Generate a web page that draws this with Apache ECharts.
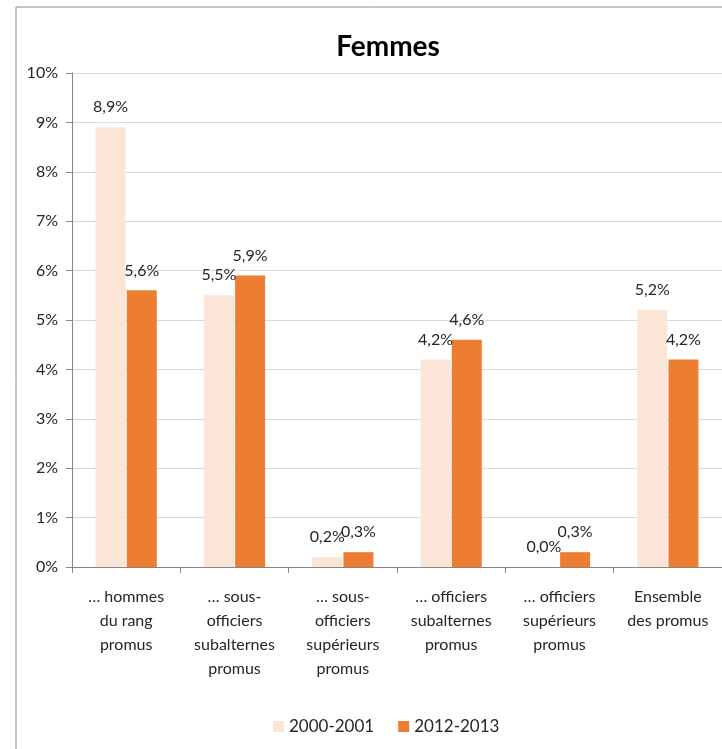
<!DOCTYPE html>
<html>
<head>
<meta charset="utf-8">
<script src="https://cdn.jsdelivr.net/npm/echarts@6/dist/echarts.min.js"></script>
<style>
  html, body { margin: 0; padding: 0; background: #fff; }
  #main { width: 722px; height: 749px; }
</style>
</head>
<body>
<div id="main"></div>
<script>
// data
const categories = [
  '… hommes\ndu rang\npromus',
  '… sous-\nofficiers\nsubalternes\npromus',
  '… sous-\nofficiers\nsupérieurs\npromus',
  '… officiers\nsubalternes\npromus',
  '… officiers\nsupérieurs\npromus',
  'Ensemble\ndes promus'
];
const seriesNames = ['2000-2001', '2012-2013'];
const values2000 = [8.9, 5.5, 0.2, 4.2, 0.0, 5.2];
const values2012 = [5.6, 5.9, 0.3, 4.6, 0.3, 4.2];
const colors = ['#FBE5D6', '#ED7D31'];

const myChart = echarts.init(document.getElementById('main'));
const font = 'Lato, "Liberation Sans", sans-serif';

// french decimal comma
const pct = v => v.toFixed(1).replace('.', ',') + '%';

function makeSeries(name, data, color) {
  return {
    name: name,
    type: 'bar',
    data: data,
    barWidth: 30,
    barGap: '4%',
    itemStyle: { color: color },
    label: {
      show: true,
      position: 'top',
      distance: 12,
      fontFamily: font,
      fontSize: 16,
      color: '#262626',
      formatter: p => pct(p.value)
    }
  };
}

const options = {
  animation: false,
  textStyle: { fontFamily: font },
  graphic: [{
    type: 'rect',
    shape: { x: 16, y: 7, width: 800, height: 800 },
    style: { fill: 'none', stroke: '#8c8c8c', lineWidth: 1 },
    silent: true
  }],
  title: {
    text: 'Femmes',
    left: 383,
    textAlign: 'center',
    top: 28,
    textStyle: { fontFamily: font, fontSize: 28, fontWeight: 'bold', color: '#000' }
  },
  legend: {
    data: seriesNames,
    left: 268,
    top: 713,
    itemWidth: 11,
    itemHeight: 11,
    itemGap: 24,
    icon: 'rect',
    textStyle: { fontFamily: font, fontSize: 17, color: '#262626' }
  },
  grid: { left: 72, top: 73, right: -4, bottom: 182, containLabel: false },
  xAxis: {
    type: 'category',
    data: categories,
    axisLine: { lineStyle: { color: '#868686' } },
    axisTick: { show: true, length: 6, lineStyle: { color: '#868686' } },
    axisLabel: {
      interval: 0,
      margin: 18,
      lineHeight: 24,
      fontSize: 16,
      color: '#262626',
      fontFamily: font
    }
  },
  yAxis: {
    type: 'value',
    min: 0,
    max: 10,
    interval: 1,
    axisLine: { show: true, lineStyle: { color: '#868686' } },
    axisTick: { show: true, length: 6, lineStyle: { color: '#868686' } },
    axisLabel: {
      formatter: v => v + '%',
      margin: 14,
      fontSize: 16,
      color: '#262626',
      fontFamily: font
    },
    splitLine: { lineStyle: { color: '#d9d9d9' } }
  },
  series: [
    makeSeries(seriesNames[0], values2000, colors[0]),
    makeSeries(seriesNames[1], values2012, colors[1])
  ]
};

myChart.setOption(options);
</script>
</body>
</html>
